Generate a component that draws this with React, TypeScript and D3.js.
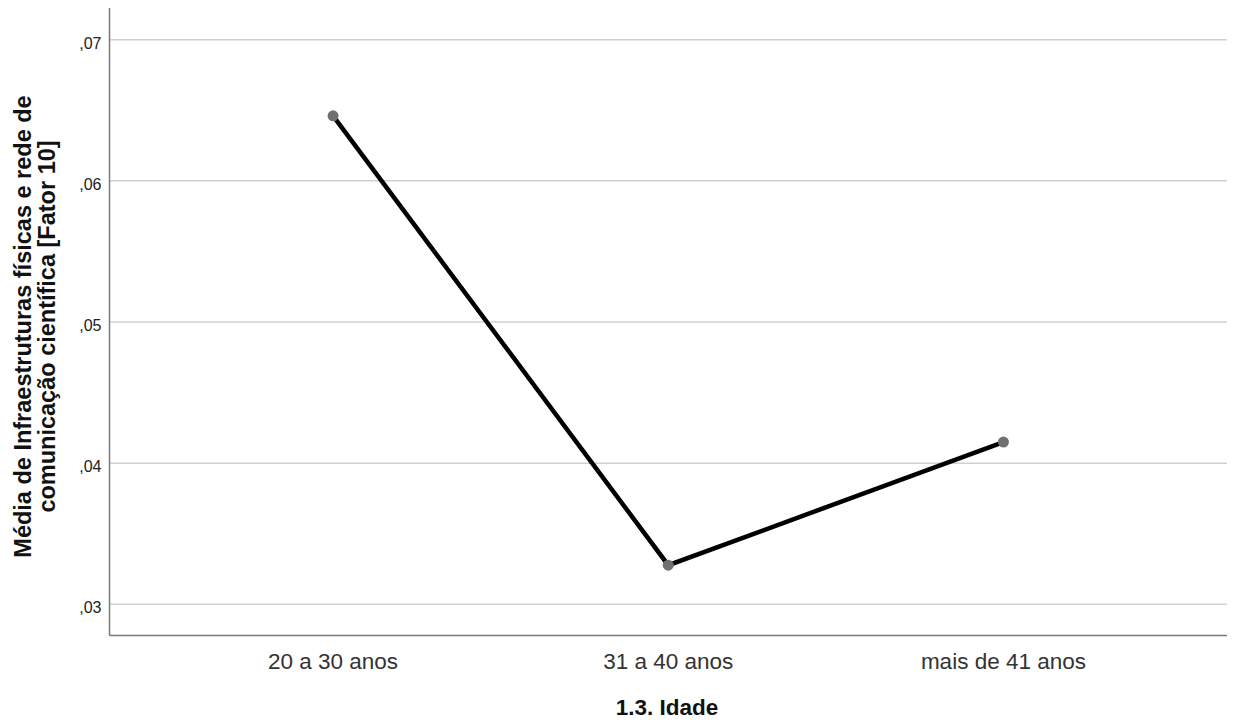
import React from "react";
import * as d3 from "d3";

const categories = ["20 a 30 anos", "31 a 40 anos", "mais de 41 anos"];
const means = [0.06461, 0.03277, 0.04149];
const yTicks = [0.03, 0.04, 0.05, 0.06, 0.07];
const yTickLabels = [",03", ",04", ",05", ",06", ",07"];
const xTitle = "1.3. Idade";
const yTitleLines = ["Média de Infraestruturas físicas e rede de", "comunicação científica [Fator 10]"];

export default function App() {
  const W = 1237, H = 726;
  const left = 109.5, right = 1227, top = 8, bottom = 635.5;
  const x = d3.scalePoint<string>().domain(categories).range([left, right]).padding(0.667);
  const y = d3.scaleLinear().domain([0.03, 0.07]).range([604.3, 39.7]);
  const line = d3.line<number>().x((_, i) => x(categories[i])!).y((d) => y(d));
  const font = "Liberation Sans, Arial, sans-serif";
  return (
    <svg width={W} height={H} style={{ position: "absolute", left: 0, top: 0, background: "#fff" }} fontFamily={font}>
      {yTicks.map((t, i) => (
        <g key={t}>
          <line x1={left} x2={right} y1={y(t)} y2={y(t)} stroke="#d0d0d0" strokeWidth={1.5} />
          <text x={left - 8} y={y(t)} dy="0.55em" textAnchor="end" fontSize={16} fill="#222">{yTickLabels[i]}</text>
        </g>
      ))}
      <line x1={left} x2={left} y1={top} y2={bottom} stroke="#7a7a7a" strokeWidth={1.5} />
      <line x1={left} x2={right} y1={bottom} y2={bottom} stroke="#7a7a7a" strokeWidth={1.5} />
      {categories.map((c) => (
        <text key={c} x={x(c)} y={669} textAnchor="middle" fontSize={22.5} fill="#333">{c}</text>
      ))}
      <text x={667} y={715} textAnchor="middle" fontSize={22.5} fontWeight="bold" fill="#111">{xTitle}</text>
      <g transform="translate(0,326.5) rotate(-90)">
        {yTitleLines.map((l, i) => (
          <text key={i} x={0} y={31 + i * 24} textAnchor="middle" fontSize={23.5} fontWeight="bold" fill="#111">{l}</text>
        ))}
      </g>
      <path d={line(means) || ""} fill="none" stroke="#000" strokeWidth={4.5} strokeLinejoin="miter" />
      {means.map((m, i) => (
        <circle key={i} cx={x(categories[i])} cy={y(m)} r={5.5} fill="#707070" />
      ))}
    </svg>
  );
}
